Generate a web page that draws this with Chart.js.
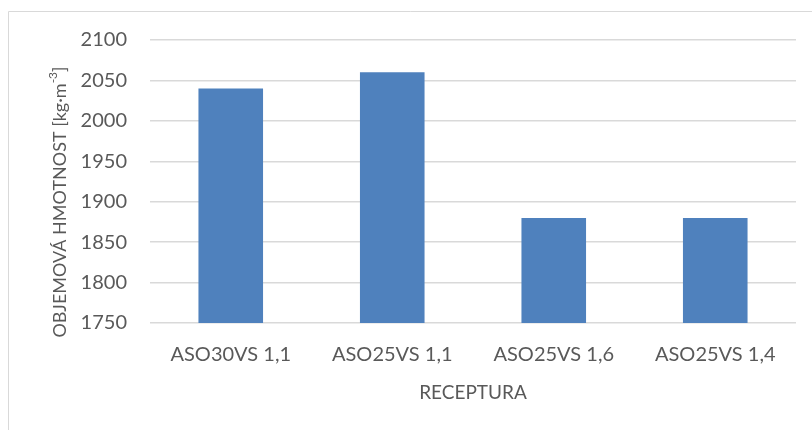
<!DOCTYPE html>
<html>
<head>
<meta charset="utf-8">
<script src="https://cdn.jsdelivr.net/npm/chart.js@4"></script>
<style>
  html, body { margin: 0; padding: 0; background: #fff; }
  #wrap { width: 812px; height: 430px; position: relative; }
</style>
</head>
<body>
<div id="wrap"><canvas id="c" width="812" height="430"></canvas></div>
<script>
const categories = ['ASO30VS 1,1', 'ASO25VS 1,1', 'ASO25VS 1,6', 'ASO25VS 1,4'];
const density = [2040, 2060, 1880, 1880];
const yTicks = [1750, 1800, 1850, 1900, 1950, 2000, 2050, 2100];
const yTitleMain = 'OBJEMOVÁ HMOTNOST [kg·m';
const yTitleSup = '-3';
const yTitleEnd = ']';
const xTitle = 'RECEPTURA';

const FONT = 'Lato, "Open Sans", sans-serif';
const TEXT = '#595959';
const GRID = '#d9d9d9';

// Outer frame and the rotated y-axis title with a superscript exponent
const framePlugin = {
  id: 'frame',
  beforeDraw(chart) {
    const ctx = chart.ctx;
    ctx.save();
    ctx.strokeStyle = GRID;
    ctx.lineWidth = 1;
    ctx.beginPath();
    ctx.moveTo(8.5, 430);
    ctx.lineTo(8.5, 11.5);
    ctx.lineTo(812, 11.5);
    ctx.stroke();
    ctx.restore();
  },
  afterDraw(chart) {
    const ctx = chart.ctx;
    const main = '18px ' + FONT;
    const small = '12px ' + FONT;
    ctx.save();
    ctx.fillStyle = TEXT;
    ctx.textBaseline = 'middle';
    ctx.textAlign = 'left';
    ctx.font = main;
    const w1 = ctx.measureText(yTitleMain).width;
    const w3 = ctx.measureText(yTitleEnd).width;
    ctx.font = small;
    const w2 = ctx.measureText(yTitleSup).width;
    const total = w1 + w2 + w3;
    ctx.translate(60, 202);
    ctx.rotate(-Math.PI / 2);
    let x = -total / 2;
    ctx.font = main;
    ctx.fillText(yTitleMain, x, 0);
    x += w1;
    ctx.font = small;
    ctx.fillText(yTitleSup, x, -7);
    x += w2;
    ctx.font = main;
    ctx.fillText(yTitleEnd, x, 0);
    ctx.restore();
  }
};

new Chart(document.getElementById('c'), {
  type: 'bar',
  data: {
    labels: categories,
    datasets: [{
      data: density,
      backgroundColor: '#4f81bd',
      borderWidth: 0,
      categoryPercentage: 1,
      barPercentage: 0.4
    }]
  },
  options: {
    responsive: false,
    animation: false,
    layout: { padding: { top: 40, right: 16, bottom: 0, left: 0 } },
    plugins: {
      legend: { display: false },
      tooltip: { enabled: false }
    },
    scales: {
      x: {
        grid: { display: false, drawTicks: false },
        border: { display: false },
        ticks: { color: TEXT, font: { family: FONT, size: 20 }, padding: 20, maxRotation: 0 },
        title: {
          display: true, text: xTitle, color: TEXT,
          font: { family: FONT, size: 19 },
          padding: { top: 0, bottom: 26 }
        },
        afterFit(scale) { scale.height = 107; }
      },
      y: {
        min: 1750,
        max: 2100,
        afterBuildTicks(scale) { scale.ticks = yTicks.map(v => ({ value: v })); },
        grid: { color: GRID, lineWidth: 1.5, drawTicks: false },
        border: { display: false },
        ticks: {
          color: TEXT, font: { family: FONT, size: 20 }, padding: 23,
          callback: v => String(v)
        },
        afterFit(scale) { scale.width = 150; }
      }
    }
  },
  plugins: [framePlugin]
});
</script>
</body>
</html>
